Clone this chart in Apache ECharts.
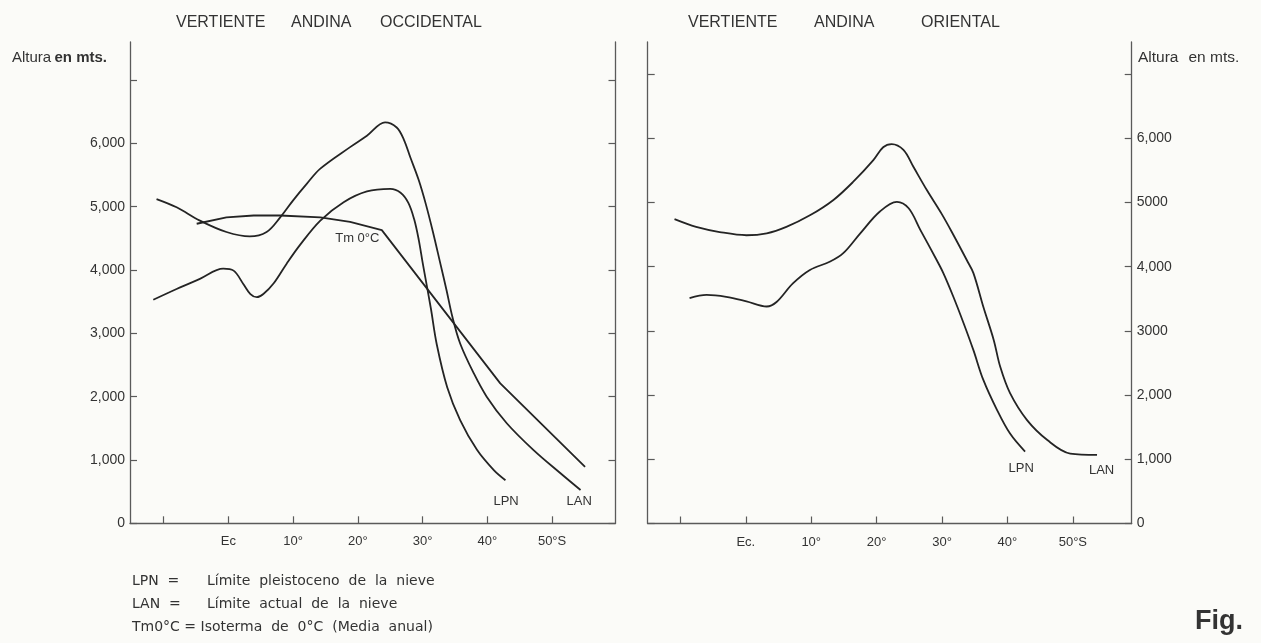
<!DOCTYPE html>
<html>
<head>
<meta charset="utf-8">
<script src="https://cdn.jsdelivr.net/npm/echarts@6/dist/echarts.min.js"></script>
<style>
html,body{margin:0;padding:0;background:#fbfbf8;}
#c{width:1261px;height:643px;}
</style>
</head>
<body>
<div id="c"></div>
<script>
// ---------- data ----------
const latTicks = [-10, 0, 10, 20, 30, 40, 50];
const latLabelValues = [0, 10, 20, 30, 40, 50];
const latLabelsOcc = ['Ec', '10°', '20°', '30°', '40°', '50°S'];
const latLabelsOri = ['Ec.', '10°', '20°', '30°', '40°', '50°S'];

const altTicks = [0, 1000, 2000, 3000, 4000, 5000, 6000, 7000];
const altLabelValues = [0, 1000, 2000, 3000, 4000, 5000, 6000];
const altLabelsOcc = ['0', '1,000', '2,000', '3,000', '4,000', '5,000', '6,000'];
const altLabelsOri = ['0', '1,000', '2,000', '3000', '4,000', '5000', '6,000'];

// Vertiente andina occidental  [latitude, altitude m]
const occLAN = [[-11.1,5120],[-8.0,4990],[-4.4,4780],[-0.3,4600],[3.3,4530],[5.9,4600],[8.0,4830],
  [10.0,5100],[12.1,5360],[14.2,5600],[18.8,5940],[21.4,6120],[24.2,6330],[26.0,6250],[27.1,6060],
  [28.1,5780],[29.4,5420],[30.5,5040],[31.6,4600],[32.7,4120],[33.7,3680],[34.6,3260],[35.8,2840],
  [37.9,2370],[39.9,2000],[43.0,1580],[47.1,1160],[51.3,790],[54.4,525]];
const occLPN = [[-11.6,3530],[-8.0,3700],[-4.4,3860],[-0.8,4020],[0.8,3990],[2.3,3780],[3.4,3620],
  [4.4,3570],[5.4,3620],[7.0,3790],[9.0,4100],[11.1,4400],[14.2,4780],[17.8,5070],[21.4,5240],
  [25.0,5280],[26.6,5220],[27.8,5060],[28.7,4800],[29.4,4480],[30.0,4120],[30.6,3780],[31.3,3380],
  [32.2,2820],[33.8,2150],[35.8,1630],[38.4,1160],[41.0,840],[42.8,680]];
const occTm = [[-4.9,4730],[-0.3,4830],[3.9,4860],[8.0,4860],[14.2,4830],[18.8,4760],[23.7,4630],
  [42.0,2210],[55.1,890]];

// Vertiente andina oriental
const oriLAN = [[-10.9,4740],[-7.6,4620],[-4.0,4540],[0.1,4490],[3.2,4520],[6.2,4620],[9.8,4800],
  [13.4,5040],[16.4,5320],[19.5,5660],[21.0,5860],[22.3,5910],[24.1,5820],[25.6,5560],[27.7,5190],
  [29.9,4830],[31.5,4540],[33.8,4100],[34.8,3900],[36.3,3380],[37.9,2860],[38.9,2440],[40.4,2030],
  [43.0,1610],[46.1,1300],[49.6,1090],[53.7,1070]];
const oriLPN = [[-8.6,3510],[-6.0,3560],[-3.0,3530],[0.1,3460],[3.2,3380],[4.7,3450],[7.2,3740],
  [9.8,3950],[12.9,4080],[14.9,4210],[17.5,4520],[20.5,4860],[23.1,5010],[24.9,4910],[26.7,4570],
  [29.2,4100],[30.2,3900],[31.7,3540],[33.3,3120],[34.8,2700],[36.3,2240],[38.4,1770],[40.4,1400],
  [42.7,1120]];

// ---------- styles ----------
const INK = '#242424';
const AXIS = '#5a5a5a';
const TXT = '#333333';
const FONT = 'Liberation Sans, Arial, sans-serif';

function labelMap(values, labels) {
  return function (v) {
    const i = values.indexOf(v);
    return i >= 0 ? labels[i] : '';
  };
}

function xAxisCfg(gridIndex, min, max, labels) {
  return {
    type: 'value', gridIndex: gridIndex, min: min, max: max,
    axisLine: { show: true, lineStyle: { color: AXIS, width: 1.3 } },
    axisTick: { show: true, inside: true, length: 7, customValues: latTicks, lineStyle: { color: AXIS, width: 1.2 } },
    axisLabel: { show: true, customValues: latLabelValues, formatter: labelMap(latLabelValues, labels),
      color: TXT, fontSize: 13, fontFamily: FONT, margin: 12 },
    splitLine: { show: false }
  };
}

function yAxisCfg(gridIndex, max, position, labels) {
  const cfg = {
    type: 'value', gridIndex: gridIndex, min: 0, max: max, position: position,
    axisLine: { show: true, onZero: false, lineStyle: { color: AXIS, width: 1.3 } },
    axisTick: { show: true, inside: true, length: 7, customValues: altTicks, lineStyle: { color: AXIS, width: 1.2 } },
    splitLine: { show: false }
  };
  if (labels) {
    cfg.axisLabel = { show: true, customValues: altLabelValues, formatter: labelMap(altLabelValues, labels),
      color: TXT, fontSize: 14, fontFamily: FONT, margin: 5 };
  } else {
    cfg.axisLabel = { show: false };
  }
  return cfg;
}

function lineSeries(name, data, xi, yi, smooth) {
  return {
    name: name, type: 'line', data: data, xAxisIndex: xi, yAxisIndex: yi,
    smooth: smooth, showSymbol: false, symbol: 'none',
    lineStyle: { color: INK, width: 1.8 }, emphasis: { disabled: true }, silent: true
  };
}

const option = {
  backgroundColor: '#fbfbf8',
  animation: false,
  grid: [
    { left: 130, right: 645.5, top: 42, bottom: 119.7 },
    { left: 647.7, right: 129.3, top: 42, bottom: 119.5 }
  ],
  xAxis: [
    xAxisCfg(0, -15.2, 59.8, latLabelsOcc),
    xAxisCfg(1, -15, 59, latLabelsOri)
  ],
  yAxis: [
    yAxisCfg(0, 7600, 'left', altLabelsOcc),
    yAxisCfg(0, 7600, 'right', null),
    yAxisCfg(1, 7500, 'left', null),
    yAxisCfg(1, 7500, 'right', altLabelsOri)
  ],
  series: [
    lineSeries('LAN occidental', occLAN, 0, 0, 0.35),
    lineSeries('LPN occidental', occLPN, 0, 0, 0.35),
    lineSeries('Tm 0°C', occTm, 0, 0, false),
    lineSeries('LAN oriental', oriLAN, 1, 2, 0.35),
    lineSeries('LPN oriental', oriLPN, 1, 2, 0.35)
  ]
};

const chart = echarts.init(document.getElementById('c'), null, { renderer: 'canvas' });
chart.setOption(option);

// ---------- annotations ----------
function txt(x, y, text, font, align, extra) {
  return {
    type: 'text', x: x, y: y, silent: true,
    style: Object.assign({ text: text, font: font, fill: TXT,
      align: align || 'left', textAlign: align || 'left',
      verticalAlign: 'middle', textVerticalAlign: 'middle' }, extra || {})
  };
}

const g = [];
// curve labels, anchored in data space
const notes = [
  { grid: 0, at: [42.9, 340], text: 'LPN', align: 'center' },
  { grid: 0, at: [54.2, 340], text: 'LAN', align: 'center' },
  { grid: 0, at: [16.5, 4500], text: 'Tm 0°C', align: 'left' },
  { grid: 1, at: [42.1, 860], text: 'LPN', align: 'center' },
  { grid: 1, at: [54.4, 830], text: 'LAN', align: 'center' }
];
notes.forEach(function (n) {
  const p = chart.convertToPixel({ gridIndex: n.grid }, n.at);
  g.push(txt(p[0], p[1], n.text, '13px ' + FONT, n.align));
});

// panel titles (word by word, the printed title is widely spaced)
const TF = '16px ' + FONT;
[['VERTIENTE', 176], ['ANDINA', 291], ['OCCIDENTAL', 380],
 ['VERTIENTE', 688], ['ANDINA', 814], ['ORIENTAL', 921]].forEach(function (w) {
  g.push(txt(w[1], 23, w[0], TF, 'left'));
});

// axis names
g.push({ type: 'text', x: 12, y: 58, silent: true,
  style: { text: '{a|Altura} {b|en mts.}', fill: TXT, verticalAlign: 'middle', textVerticalAlign: 'middle',
    rich: { a: { font: '15px ' + FONT, fill: TXT }, b: { font: 'bold 15px ' + FONT, fill: TXT } } } });
g.push({ type: 'text', x: 1138, y: 58, silent: true,
  style: { text: '{a|Altura}   {a|en mts.}', fill: TXT, verticalAlign: 'middle', textVerticalAlign: 'middle',
    rich: { a: { font: '15.5px ' + FONT, fill: TXT } } } });

// key
const KF = '14px DejaVu Sans, sans-serif';
g.push(txt(132, 581, 'LPN  =', KF));
g.push(txt(207, 581, 'Límite  pleistoceno  de  la  nieve', KF));
g.push(txt(132, 604, 'LAN  =', KF));
g.push(txt(207, 604, 'Límite  actual  de  la  nieve', KF));
g.push(txt(132, 627, 'Tm0°C = Isoterma  de  0°C  (Media  anual)', KF));

// figure mark
g.push(txt(1195, 622, 'Fig.', 'bold 27px ' + FONT, 'left'));

chart.setOption({ graphic: { elements: g } });
</script>
</body>
</html>
